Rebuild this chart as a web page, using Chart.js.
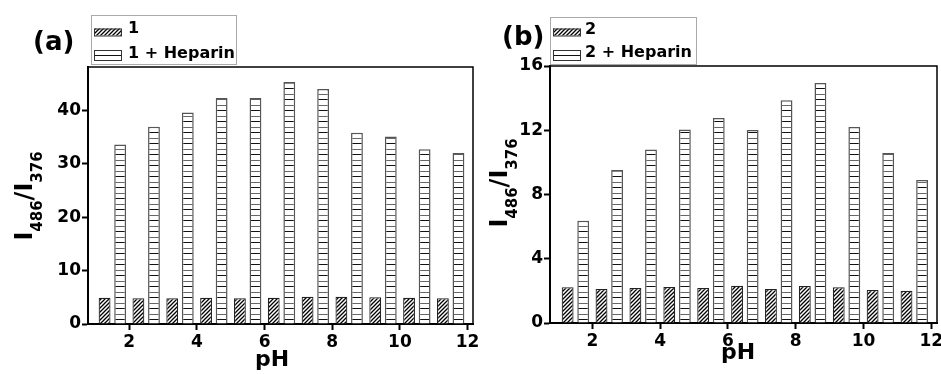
<!DOCTYPE html>
<html>
<head>
<meta charset="utf-8">
<script src="https://cdn.jsdelivr.net/npm/chart.js@4"></script>
<style>
  body { margin: 0; background: #fff; }
  #wrap { position: relative; width: 941px; height: 374px; }
  canvas { position: absolute; top: 0; }
  #chartA { left: 0; }
  #chartB { left: 478px; }
</style>
</head>
<body>
<div id="wrap">
  <canvas id="chartA" width="478" height="374"></canvas>
  <canvas id="chartB" width="463" height="374"></canvas>
</div>
<script>
// posición (pH) de cada par de barras
const ph = [1.5, 2.5, 3.5, 4.5, 5.5, 6.5, 7.5, 8.5, 9.5, 10.5, 11.5];

// panel (a)
const ratio1 = [4.9, 4.8, 4.8, 4.9, 4.8, 4.9, 5.1, 5.1, 5.0, 4.9, 4.8];
const ratio1Heparin = [33.6, 36.9, 39.6, 42.3, 42.3, 45.3, 44.0, 35.8, 35.1, 32.7, 32.0];

// panel (b)
const ratio2 = [2.22, 2.11, 2.18, 2.24, 2.18, 2.32, 2.11, 2.30, 2.22, 2.05, 2.01];
const ratio2Heparin = [6.36, 9.53, 10.8, 12.05, 12.77, 12.02, 13.87, 14.94, 12.21, 10.59, 8.91];

// ticks
const xTicks = [2, 4, 6, 8, 10, 12];
const yTicksA = [0, 10, 20, 30, 40];
const yTicksB = [0, 4, 8, 12, 16];

const FONT = "'DejaVu Sans', sans-serif";

// Patrones de relleno
function diagPattern() {
    const c = document.createElement("canvas");
    c.width = 4; c.height = 4;
    const g = c.getContext("2d");
    g.fillStyle = "#fff";
    g.fillRect(0, 0, 4, 4);
    g.strokeStyle = "#000";
    g.lineWidth = 1.3;
    g.beginPath();
    g.moveTo(-1, 5); g.lineTo(5, -1);
    g.moveTo(-1, 1); g.lineTo(1, -1);
    g.moveTo(3, 5); g.lineTo(5, 3);
    g.stroke();
    return g.createPattern(c, "repeat");
}

function linePattern() {
    const c = document.createElement("canvas");
    c.width = 4; c.height = 11;
    const g = c.getContext("2d");
    g.fillStyle = "#fff";
    g.fillRect(0, 0, 4, 11);
    g.fillStyle = "#111";
    g.fillRect(0, 0, 4, 1);
    g.fillStyle = "#666";
    g.fillRect(0, 6, 4, 1);
    return g.createPattern(c, "repeat");
}

// Marco, leyenda, títulos
const decorPlugin = {
    id: "decor",
    afterDraw(chart, args, o) {
        const ctx = chart.ctx;
        const a = chart.chartArea;
        ctx.save();

        // marco superior y derecho
        ctx.strokeStyle = "#000";
        ctx.lineWidth = 1.5;
        ctx.beginPath();
        ctx.moveTo(a.left, a.top);
        ctx.lineTo(a.right, a.top);
        ctx.lineTo(a.right, a.bottom);
        ctx.stroke();

        // leyenda
        const L = o.legend;
        ctx.strokeStyle = "#aaa";
        ctx.lineWidth = 1;
        ctx.strokeRect(L.x + 0.5, L.y + 0.5, L.w, L.h);
        ctx.font = "bold 16px " + FONT;
        ctx.textBaseline = "middle";
        ctx.textAlign = "left";
        chart.data.datasets.forEach((ds, i) => {
            const sh = L.swH[i];
            const sy = L.swY[i] - sh / 2;
            ctx.fillStyle = ds.backgroundColor;
            ctx.fillRect(L.swX, sy, 28, sh);
            ctx.strokeStyle = "#333";
            ctx.strokeRect(L.swX + 0.5, sy + 0.5, 27, sh);
            ctx.fillStyle = "#000";
            ctx.fillText(ds.label, L.textX, L.rows[i]);
        });

        // etiqueta del panel
        ctx.font = "bold 26px " + FONT;
        ctx.fillText(o.panel, o.panelX, o.panelY);

        // título eje x
        ctx.font = "bold 22px " + FONT;
        ctx.textAlign = "center";
        ctx.textBaseline = "alphabetic";
        ctx.fillText("pH", o.phX, o.phY);

        // título eje y con subíndices
        const parts = [["I", 0], ["486", 1], ["/I", 0], ["376", 1]];
        const big = "bold 24px " + FONT, small = "bold 15px " + FONT;
        let total = 0;
        parts.forEach(p => { ctx.font = p[1] ? small : big; total += ctx.measureText(p[0]).width; });
        ctx.translate(o.titleX, o.titleY);
        ctx.rotate(-Math.PI / 2);
        ctx.textAlign = "left";
        let pos = -total / 2;
        parts.forEach(p => {
            ctx.font = p[1] ? small : big;
            ctx.fillText(p[0], pos, p[1] ? 10 : 0);
            pos += ctx.measureText(p[0]).width;
        });
        ctx.restore();
    }
};

function axisStyle() {
    return {
        grid: { display: true, drawOnChartArea: false, drawTicks: true, tickLength: 6, tickWidth: 2, tickColor: "#000", offset: false },
        border: { display: true, color: "#000", width: 2 },
        ticks: { color: "#000", font: { family: FONT, size: 17, weight: "bold" }, maxRotation: 0 }
    };
}

function makeChart(id, labels, low, high, cfg) {
    const x = axisStyle();
    Object.assign(x, {
        type: "linear", min: cfg.xMin, max: cfg.xMax, offset: false,
        afterBuildTicks: s => { s.ticks = xTicks.map(v => ({ value: v })); },
        afterFit: s => { s.height = cfg.xHeight; s.paddingLeft = 0; s.paddingRight = 0; }
    });
    x.ticks.padding = 2;
    const y = axisStyle();
    Object.assign(y, {
        min: 0, max: cfg.yMax,
        afterBuildTicks: s => { s.ticks = cfg.yTicks.map(v => ({ value: v })); },
        afterFit: s => { s.width = cfg.yWidth; s.paddingTop = 0; s.paddingBottom = 0; }
    });
    y.ticks.padding = 1;

    return new Chart(document.getElementById(id), {
        type: "bar",
        data: {
            datasets: [{
                label: labels[0],
                data: ph.map((p, i) => ({ x: p, y: low[i] })),
                backgroundColor: diagPattern(),
                borderColor: "#222",
                borderWidth: 1.2
            }, {
                label: labels[1],
                data: ph.map((p, i) => ({ x: p, y: high[i] })),
                backgroundColor: linePattern(),
                borderColor: "#555",
                borderWidth: 1.5
            }]
        },
        options: {
            responsive: false,
            animation: false,
            events: [],
            categoryPercentage: 0.92,
            barPercentage: 0.76,
            layout: { padding: { top: cfg.top, right: cfg.right, left: 0, bottom: 0 } },
            scales: { x: x, y: y },
            plugins: {
                legend: { display: false },
                tooltip: { enabled: false },
                decor: cfg.decor
            }
        },
        plugins: [decorPlugin]
    });
}

makeChart("chartA", ["1", "1 + Heparin"], ratio1, ratio1Heparin, {
    xMin: 0.78, xMax: 12.16, yMax: 48.1, yTicks: yTicksA,
    top: 67, right: 5, yWidth: 88, xHeight: 50,
    decor: {
        legend: { x: 91, y: 15, w: 145, h: 49, swX: 94, swY: [32, 55], swH: [7, 10], textX: 128, rows: [29, 54] },
        panel: "(a)", panelX: 33, panelY: 43,
        phX: 272, phY: 366,
        titleX: 32, titleY: 196
    }
});

makeChart("chartB", ["2", "2 + Heparin"], ratio2, ratio2Heparin, {
    xMin: 0.75, xMax: 12.17, yMax: 16, yTicks: yTicksB,
    top: 66, right: 4, yWidth: 72, xHeight: 51,
    decor: {
        legend: { x: 72, y: 17, w: 146, h: 47, swX: 75, swY: [32, 55], swH: [7, 10], textX: 107, rows: [30, 53] },
        panel: "(b)", panelX: 24, panelY: 38,
        phX: 260, phY: 359,
        titleX: 29, titleY: 183
    }
});
</script>
</body>
</html>
